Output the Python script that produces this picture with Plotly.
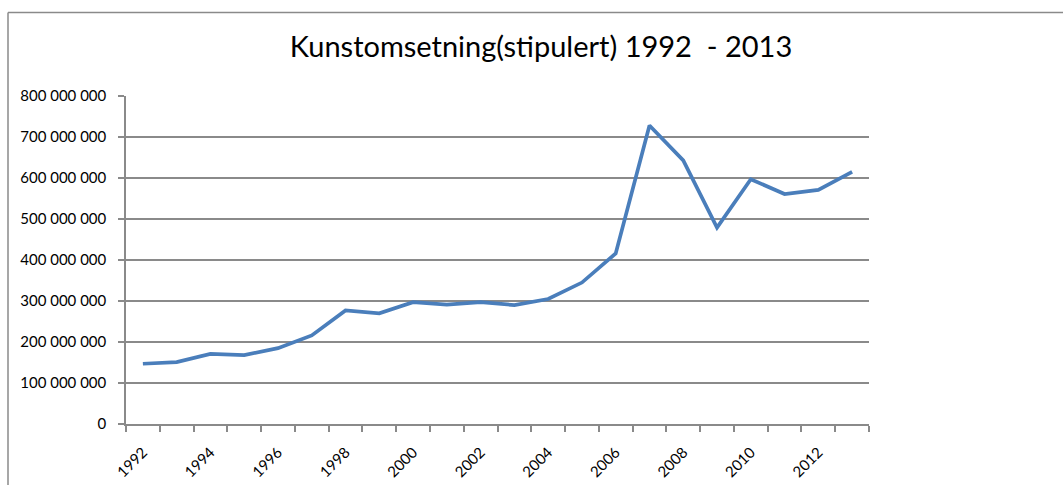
import plotly.graph_objects as go

years = list(range(1992, 2014))
omsetning = [147e6, 151e6, 171e6, 168e6, 185e6, 216e6, 277e6, 270e6, 297e6, 291e6,
             297e6, 290e6, 305e6, 345e6, 416e6, 728e6, 643e6, 479e6, 597e6, 561e6,
             571e6, 615e6]
y_ticks = [0, 100e6, 200e6, 300e6, 400e6, 500e6, 600e6, 700e6, 800e6]
x_tick_years = list(range(1992, 2013, 2))
title_text = "Kunstomsetning(stipulert) 1992  - 2013"

W, H = 1063, 485
L, R, T, B = 126, 1063 - 869, 96, 485 - 424
pw, ph = W - L - R, H - T - B

grid_col = "#8a8a8a"
font_fam = "Lato, Liberation Sans, Arial, sans-serif"

fig = go.Figure()
fig.add_trace(go.Scatter(x=years, y=omsetning, mode="lines",
                         line=dict(color="#4A7EBB", width=3.7), showlegend=False))

fig.update_layout(
    width=W, height=H,
    margin=dict(l=L, r=R, t=T, b=B, autoexpand=False),
    paper_bgcolor="white", plot_bgcolor="white",
    separators=", ",
    title=dict(text=title_text, x=541 / W, xanchor="center",
               y=1 - 47 / H, yanchor="middle",
               font=dict(family=font_fam, size=29, color="black")),
    font=dict(family=font_fam, size=15, color="black"),
)

fig.update_xaxes(
    range=[1991.5, 2013.5], tickvals=x_tick_years, ticktext=[str(v) for v in x_tick_years],
    tickangle=-45, ticks="", showgrid=False, zeroline=False, automargin=False,
    showline=True, linecolor=grid_col, linewidth=1.5,
    tickfont=dict(size=15), ticklabelstandoff=12,
    minor=dict(tick0=1991.5, dtick=1, ticks="outside", ticklen=6, tickcolor=grid_col,
               tickwidth=1.5, showgrid=False),
)
fig.update_yaxes(
    range=[0, 800e6], tickvals=y_ticks, tickformat=",.0f", automargin=False,
    ticks="outside", ticklen=6, tickcolor=grid_col, tickwidth=1.5,
    showline=True, linecolor=grid_col, linewidth=1.5,
    showgrid=True, gridcolor=grid_col, gridwidth=1.5, zeroline=False,
    ticklabelstandoff=9,
)

# chart area border (extends beyond the visible picture)
bx = (8 - L) / pw
by = (H - B - 12.5) / ph
fig.add_shape(type="line", xref="paper", yref="paper", x0=bx, x1=bx, y0=-1, y1=by,
              line=dict(color="#8a8a8a", width=1.5))
fig.add_shape(type="line", xref="paper", yref="paper", x0=bx, x1=2, y0=by, y1=by,
              line=dict(color="#8a8a8a", width=1.5))

fig.write_html("out.html", config={"displayModeBar": False},
               post_script="document.body.style.margin='0';document.body.style.overflow='hidden';")
